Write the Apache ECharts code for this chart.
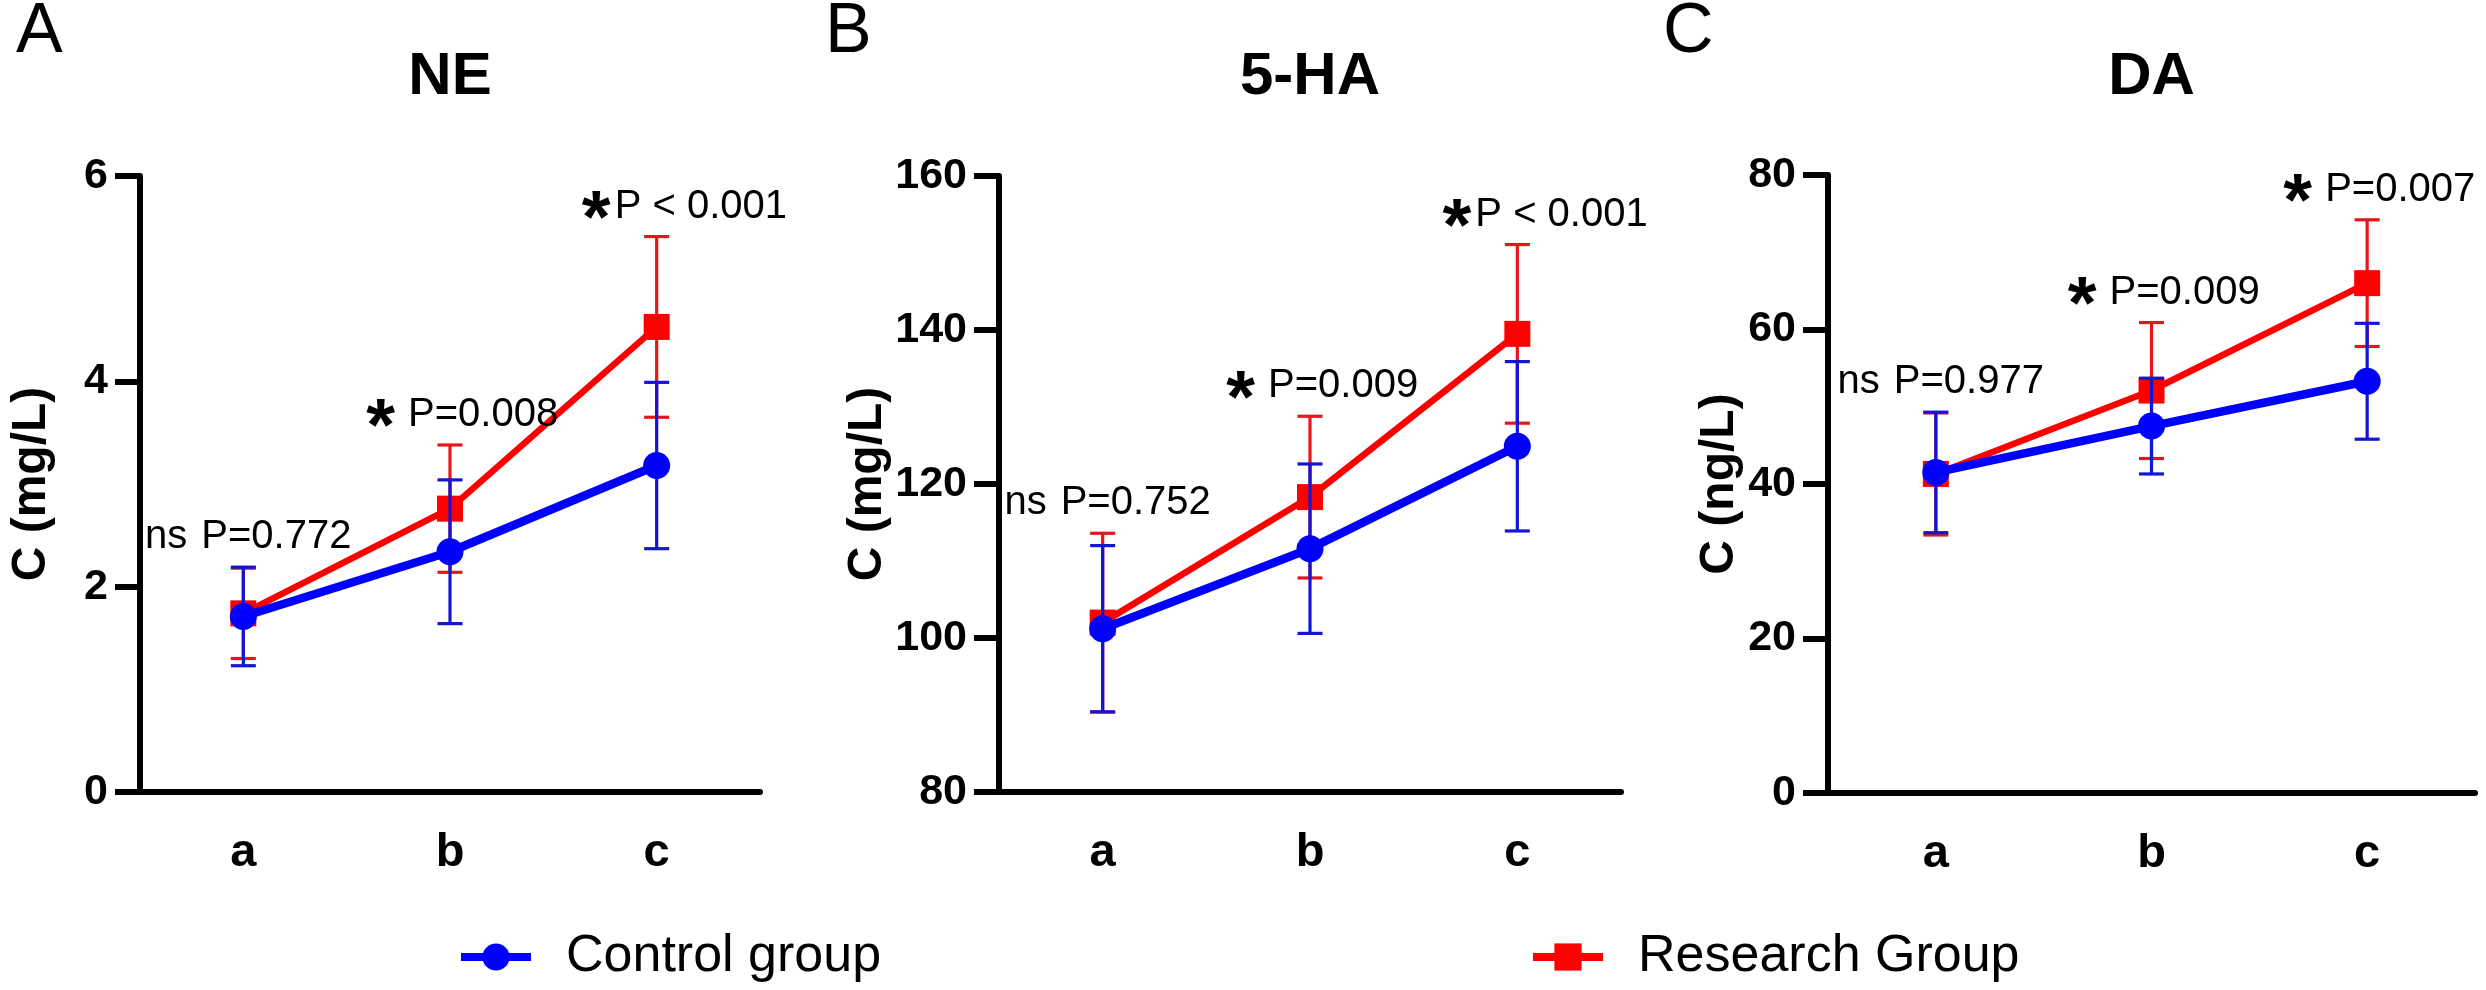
<!DOCTYPE html>
<html><head><meta charset="utf-8">
<script src="https://cdn.jsdelivr.net/npm/echarts@6/dist/echarts.min.js"></script>
<style>html,body{margin:0;padding:0;background:#fff}#c{width:2486px;height:990px}</style>
</head><body><div id="c"></div>
<script>
// ---------- data ----------
const categories = ['a', 'b', 'c'];
const seriesNames = ['Control group', 'Research Group'];
const panelLetters = ['A', 'B', 'C'];
const panelTitles = ['NE', '5-HA', 'DA'];
const yAxisNames = ['C (mg/L)', 'C (mg/L)', 'C (ng/L)'];
const yMins = [0, 80, 0];
const yMaxs = [6, 160, 80];
const yIntervals = [2, 20, 20];

const neControlMean = [1.71, 2.34, 3.18];
const neControlSD = [0.48, 0.70, 0.81];
const neResearchMean = [1.74, 2.76, 4.53];
const neResearchSD = [0.44, 0.62, 0.88];

const haControlMean = [101.2, 111.6, 124.9];
const haControlSD = [10.8, 11.0, 11.0];
const haResearchMean = [102.0, 118.3, 139.5];
const haResearchSD = [11.6, 10.5, 11.6];

const daControlMean = [41.5, 47.5, 53.3];
const daControlSD = [7.8, 6.2, 7.5];
const daResearchMean = [41.3, 52.1, 66.0];
const daResearchSD = [7.9, 8.8, 8.2];

const neNotes = ['ns P=0.772', '* P=0.008', '*P < 0.001'];
const haNotes = ['ns P=0.752', '* P=0.009', '*P < 0.001'];
const daNotes = ['ns P=0.977', '* P=0.009', '* P=0.007'];

// ---------- layout / style ----------
const FONT = '"Liberation Sans", Arial, sans-serif';
const BLUE = '#0000ff', RED = '#ff0000';
const BLUE_ERR = '#1414d6', RED_ERR = '#e8141c';
const grids = [
  { left: 140, top: 176, width: 620, height: 616 },
  { left: 999, top: 176, width: 622, height: 616 },
  { left: 1828, top: 175, width: 647, height: 618 }
];
const letterX = [16, 825, 1663];
const nameGaps = [84, 84, 84];

const panels = [
  { cm: neControlMean, cs: neControlSD, rm: neResearchMean, rs: neResearchSD, notes: neNotes },
  { cm: haControlMean, cs: haControlSD, rm: haResearchMean, rs: haResearchSD, notes: haNotes },
  { cm: daControlMean, cs: daControlSD, rm: daResearchMean, rs: daResearchSD, notes: daNotes }
];

function errRender(color) {
  return function (params, api) {
    const x = api.value(0), m = api.value(1), s = api.value(2);
    const t = api.coord([x, m + s]);
    const b = api.coord([x, m - s]);
    const hw = 12.5;
    const st = { stroke: color, lineWidth: 3.2 };
    return {
      type: 'group', children: [
        { type: 'line', shape: { x1: t[0], y1: t[1], x2: b[0], y2: b[1] }, style: st },
        { type: 'line', shape: { x1: t[0] - hw, y1: t[1], x2: t[0] + hw, y2: t[1] }, style: st },
        { type: 'line', shape: { x1: b[0] - hw, y1: b[1], x2: b[0] + hw, y2: b[1] }, style: st }
      ]
    };
  };
}

function noteRender(notes) {
  return function (params, api) {
    const p = api.coord([api.value(0), api.value(1)]);
    const note = notes[params.dataIndex];
    const mm = note.match(/^(ns|\*)(\s?)(.*)$/);
    const prefix = mm[1], spaced = mm[2].length > 0, body = mm[3];
    const px = p[0] - 42;
    const cy = p[1] - 30;
    const txt = (t, x, y, size, weight, align) => ({
      type: 'text', x: x, y: y,
      style: {
        text: t, fill: '#000', fontSize: size, fontWeight: weight, fontFamily: FONT,
        font: weight + ' ' + size + 'px ' + FONT,
        align: align, textAlign: align, verticalAlign: 'middle', textVerticalAlign: 'middle'
      }
    });
    const children = [txt(body, px, cy, 40, 'normal', 'left')];
    if (prefix === 'ns') {
      children.push(txt('ns', px - 14, cy, 40, 'normal', 'right'));
    } else {
      children.push(txt('*', px - (spaced ? 13 : 4), cy + 15, 74, 'bold', 'right'));
    }
    return { type: 'group', children: children };
  };
}

const xAxes = [], yAxes = [], series = [], graphics = [];
panels.forEach((pd, g) => {
  xAxes.push({
    gridIndex: g, type: 'category', data: categories, boundaryGap: true,
    axisLine: { onZero: false, lineStyle: { color: '#000', width: 6 } },
    axisTick: { alignWithLabel: true, length: 26, lineStyle: { color: '#000', width: 6 } },
    axisLabel: { fontSize: 47, fontWeight: 'bold', color: '#000', fontFamily: FONT, margin: 38 },
    splitLine: { show: false }
  });
  yAxes.push({
    gridIndex: g, type: 'value', min: yMins[g], max: yMaxs[g], interval: yIntervals[g],
    axisLine: { show: true, lineStyle: { color: '#000', width: 6 } },
    axisTick: { show: true, length: 25, lineStyle: { color: '#000', width: 6 } },
    axisLabel: { fontSize: 43, fontWeight: 'bold', color: '#000', fontFamily: FONT, margin: 32 },
    splitLine: { show: false },
    name: yAxisNames[g], nameLocation: 'middle', nameRotate: 90, nameGap: nameGaps[g],
    nameTextStyle: { fontSize: 48, fontWeight: 'bold', color: '#000', fontFamily: FONT }
  });
  const redErr = categories.map((c, i) => [i, pd.rm[i], pd.rs[i]]);
  const blueErr = categories.map((c, i) => [i, pd.cm[i], pd.cs[i]]);
  series.push({
    type: 'custom', name: 'rErr' + g, xAxisIndex: g, yAxisIndex: g, z: 2,
    renderItem: errRender(RED_ERR), data: redErr, encode: { x: 0, y: 1 }, silent: true
  });
  series.push({
    type: 'line', name: seriesNames[1], xAxisIndex: g, yAxisIndex: g, z: 3,
    data: pd.rm, symbol: 'rect', symbolSize: 26, itemStyle: { color: RED },
    lineStyle: { color: RED, width: 6.5 }
  });
  series.push({
    type: 'custom', name: 'bErr' + g, xAxisIndex: g, yAxisIndex: g, z: 4,
    renderItem: errRender(BLUE_ERR), data: blueErr, encode: { x: 0, y: 1 }, silent: true
  });
  series.push({
    type: 'line', name: seriesNames[0], xAxisIndex: g, yAxisIndex: g, z: 5,
    data: pd.cm, symbol: 'circle', symbolSize: 27, itemStyle: { color: BLUE },
    lineStyle: { color: BLUE, width: 8.5 }
  });
  const noteData = categories.map((c, i) => [i, Math.max(pd.cm[i] + pd.cs[i], pd.rm[i] + pd.rs[i])]);
  series.push({
    type: 'custom', name: 'notes' + g, xAxisIndex: g, yAxisIndex: g, z: 6,
    renderItem: noteRender(pd.notes), data: noteData, encode: { x: 0, y: 1 }, silent: true
  });
  const gr = grids[g];
  graphics.push({
    type: 'text', x: gr.left + gr.width / 2, y: 77,
    style: { text: panelTitles[g], fill: '#000', font: 'bold 60px ' + FONT, fontSize: 60, fontWeight: 'bold', fontFamily: FONT,
      textAlign: 'center', align: 'center', textVerticalAlign: 'middle', verticalAlign: 'middle' }
  });
  graphics.push({
    type: 'text', x: letterX[g], y: 33,
    style: { text: panelLetters[g], fill: '#000', font: 'normal 70px ' + FONT, fontSize: 70, fontFamily: FONT,
      textAlign: 'left', align: 'left', textVerticalAlign: 'middle', verticalAlign: 'middle' }
  });
});

function legendFor(name, color, left) {
  return {
    data: [name], left: left, top: 926, orient: 'horizontal',
    itemWidth: 70, itemHeight: 34, selectedMode: false,
    lineStyle: { width: 8, color: color },
    itemStyle: { color: color },
    textStyle: { fontSize: 52, color: '#000', fontFamily: FONT, padding: [0, 0, 0, 30] }
  };
}

const option = {
  animation: false,
  backgroundColor: '#fff',
  grid: grids.map(g => Object.assign({ containLabel: false, outerBoundsMode: 'none' }, g)),
  xAxis: xAxes,
  yAxis: yAxes,
  legend: [
    legendFor(seriesNames[0], BLUE, 452),
    legendFor(seriesNames[1], RED, 1524)
  ],
  graphic: graphics,
  series: series
};

const chart = echarts.init(document.getElementById('c'), null, { renderer: 'canvas' });
chart.setOption(option);
</script>
</body></html>
